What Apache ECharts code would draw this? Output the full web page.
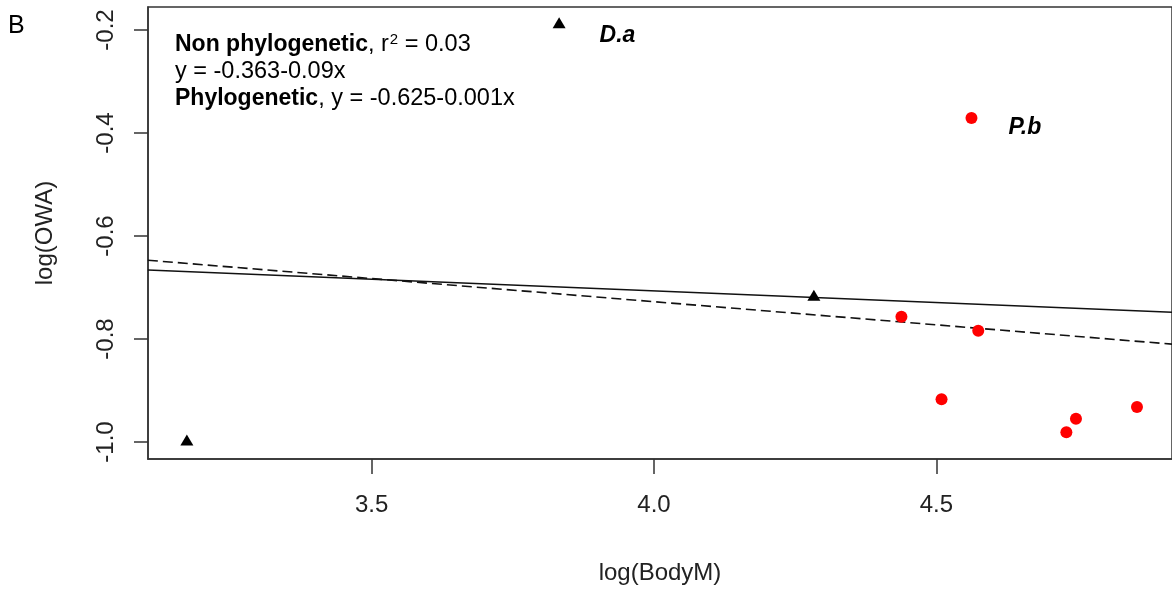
<!DOCTYPE html>
<html>
<head>
<meta charset="utf-8">
<script src="https://cdn.jsdelivr.net/npm/echarts@6/dist/echarts.min.js"></script>
<style>
  html, body { margin: 0; padding: 0; background: #fff; }
  #chart { width: 1172px; height: 590px; }
</style>
</head>
<body>
<div id="chart"></div>
<script>
// points
let blackX = [3.173, 3.832, 4.283];
let blackY = [-0.996, -0.186, -0.715];
let blackNames = ['', 'D.a', ''];

let redX = [4.562, 4.438, 4.574, 4.509, 4.747, 4.730, 4.855];
let redY = [-0.371, -0.757, -0.784, -0.917, -0.955, -0.981, -0.932];
let redNames = ['P.b', '', '', '', '', '', ''];

// fitted lines (end points at the plot edges)
let lineX = [3.104, 4.917];
let nonPhyloY = [-0.666, -0.748];
let phyloY = [-0.647, -0.810];

let xTicks = [3.5, 4.0, 4.5];
let yTicks = [-1.0, -0.8, -0.6, -0.4, -0.2];

let fontFamily = '"Liberation Sans", Arial, sans-serif';
let axisColor = '#333';

function pairs(xs, ys) {
    let list = [];
    for (let i = 0; i < xs.length; i++) {
        list.push([xs[i], ys[i]]);
    }
    return list;
}

function labelled(xs, ys, names, dx, dy) {
    let list = [];
    for (let i = 0; i < xs.length; i++) {
        let item = { value: [xs[i], ys[i]], name: names[i] };
        if (names[i]) {
            item.label = {
                show: true,
                position: 'right',
                distance: dx,
                offset: [0, dy],
                formatter: '{b}',
                color: '#000',
                opacity: 1,
                fontFamily: fontFamily,
                fontSize: 23,
                fontWeight: 'bold',
                fontStyle: 'italic'
            };
        }
        list.push(item);
    }
    return list;
}

let chart = echarts.init(document.getElementById('chart'));

let options = {
    animation: false,
    grid: {
        left: 148,
        top: 7,
        right: -2,
        bottom: 131,
        show: true,
        borderColor: axisColor,
        borderWidth: 1.5,
        backgroundColor: 'transparent'
    },
    xAxis: {
        type: 'value',
        min: 3.1042,
        max: 4.917,
        name: 'log(BodyM)',
        nameLocation: 'middle',
        nameGap: 102,
        nameTextStyle: { color: '#222', fontFamily: fontFamily, fontSize: 24 },
        axisLine: { show: true, lineStyle: { color: axisColor, width: 1.5 } },
        axisTick: { show: true, length: 15, customValues: xTicks, lineStyle: { color: axisColor, width: 1.5 } },
        axisLabel: {
            customValues: xTicks,
            margin: 34,
            color: '#222',
            fontFamily: fontFamily,
            fontSize: 24,
            formatter: function (v) { return v.toFixed(1); }
        },
        splitLine: { show: false }
    },
    yAxis: {
        type: 'value',
        min: -1.033,
        max: -0.1553,
        name: 'log(OWA)',
        nameLocation: 'middle',
        nameRotate: 90,
        nameGap: 91,
        nameTextStyle: { color: '#222', fontFamily: fontFamily, fontSize: 24 },
        axisLine: { show: true, lineStyle: { color: axisColor, width: 1.5 } },
        axisTick: { show: true, length: 14, customValues: yTicks, lineStyle: { color: axisColor, width: 1.5 } },
        axisLabel: {
            customValues: yTicks,
            rotate: 90,
            margin: 30,
            color: '#222',
            fontFamily: fontFamily,
            fontSize: 24,
            formatter: function (v) { return v.toFixed(1); }
        },
        splitLine: { show: false }
    },
    graphic: [
        {
            type: 'text',
            left: 8,
            top: 14,
            style: { text: 'B', fill: '#000', font: '25px ' + fontFamily }
        },
        {
            type: 'text',
            left: 175,
            top: 31,
            style: {
                text: '{b|Non phylogenetic}, r{s|2} = 0.03\ny = -0.363-0.09x\n{b|Phylogenetic}, y = -0.625-0.001x',
                fill: '#000',
                font: '23.5px ' + fontFamily,
                lineHeight: 27,
                rich: {
                    b: { fontWeight: 'bold', fontSize: 23, fontFamily: fontFamily, lineHeight: 27 },
                    s: { fontSize: 15, fontFamily: fontFamily, lineHeight: 27, padding: [0, 0, 9, 1] }
                }
            }
        }
    ],
    series: [
        {
            name: 'Non phylogenetic',
            type: 'line',
            data: pairs(lineX, nonPhyloY),
            showSymbol: false,
            lineStyle: { color: '#111', width: 1.6 },
            z: 1
        },
        {
            name: 'Phylogenetic',
            type: 'line',
            data: pairs(lineX, phyloY),
            showSymbol: false,
            lineStyle: { color: '#111', width: 1.6, type: [10, 5] },
            z: 1
        },
        {
            name: 'black',
            type: 'scatter',
            symbol: 'triangle',
            symbolSize: [13, 11],
            itemStyle: { color: '#000', opacity: 1 },
            data: labelled(blackX, blackY, blackNames, 34, 13),
            z: 3
        },
        {
            name: 'red',
            type: 'scatter',
            symbol: 'circle',
            symbolSize: 12,
            itemStyle: { color: '#ff0000', opacity: 1 },
            data: labelled(redX, redY, redNames, 31, 10),
            z: 3
        }
    ]
};
chart.setOption(options);
</script>
</body>
</html>
